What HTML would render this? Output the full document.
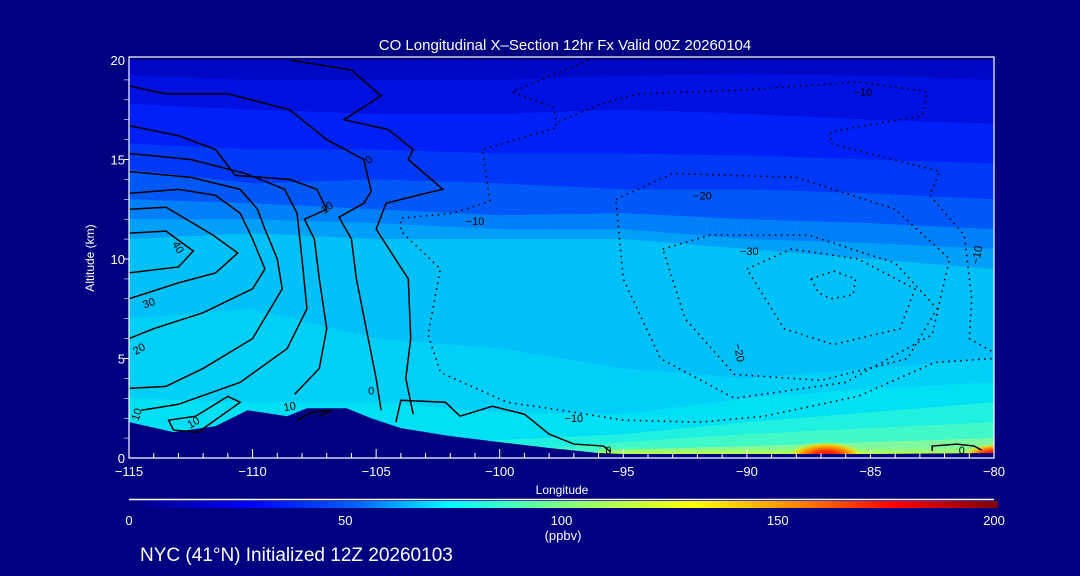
<!DOCTYPE html>
<html><head><meta charset="utf-8">
<style>
html,body{margin:0;padding:0;background:#000080;width:1080px;height:576px;overflow:hidden}
svg{display:block}
text{font-family:"Liberation Sans",sans-serif;fill:#fff}
</style></head>
<body>
<svg id="chart" width="1080" height="576" viewBox="0 0 1080 576">
<defs>
<linearGradient id="cbar" x1="0" x2="1" y1="0" y2="0">
<stop offset="0" stop-color="#000080"/>
<stop offset="0.14" stop-color="#0000ff"/>
<stop offset="0.26" stop-color="#0060ff"/>
<stop offset="0.37" stop-color="#00ffff"/>
<stop offset="0.5" stop-color="#80ff80"/>
<stop offset="0.65" stop-color="#ffff00"/>
<stop offset="0.76" stop-color="#ff9000"/>
<stop offset="0.88" stop-color="#ff0000"/>
<stop offset="1" stop-color="#800000"/>
</linearGradient>
<radialGradient id="hot" cx="0.5" cy="0.6" r="0.5">
<stop offset="0" stop-color="#d00000"/>
<stop offset="0.35" stop-color="#ff3000"/>
<stop offset="0.7" stop-color="#ffb000"/>
<stop offset="1" stop-color="#ffff00" stop-opacity="0"/>
</radialGradient>
<linearGradient id="ylw" x1="0" x2="0" y1="0" y2="1">
<stop offset="0" stop-color="#a0ff60" stop-opacity="0"/>
<stop offset="0.5" stop-color="#c0ff40"/>
<stop offset="1" stop-color="#e8ff20"/>
</linearGradient>
<clipPath id="plotclip"><rect x="129" y="60" width="865" height="398"/></clipPath>
</defs>
<text x="565" y="50" font-size="15" text-anchor="middle">CO Longitudinal X–Section 12hr  Fx Valid 00Z 20260104</text>
<g id="plot" clip-path="url(#plotclip)"></g>
<g id="lines" clip-path="url(#plotclip)"></g>
<g id="axes"></g>
<text x="562" y="494" font-size="12" text-anchor="middle">Longitude</text>
<text x="94" y="258" font-size="12" text-anchor="middle" transform="rotate(-90 94 258)">Altitude (km)</text>
<line x1="129" y1="499.5" x2="994" y2="499.5" stroke="#fff" stroke-width="1.5"/>
<rect x="129" y="501" width="869" height="7" fill="url(#cbar)"/>
<g id="cbticks"></g>
<text x="563" y="540" font-size="13" text-anchor="middle">(ppbv)</text>
<text x="140" y="561" font-size="19">NYC (41°N) Initialized 12Z 20260103</text>
</svg>
<script>
const lons=[-115,-110,-105,-100,-95,-90,-85,-80];
const bandColors=["#0010e0","#0020f8","#0038f8","#0058f8","#0080f8","#00a0f8","#00c0f8","#00d0f8","#00e0f4","#20f0e0","#40f8c8","#80f8a0"];
const b1=[19.2,19,19,19,19.2,19.3,19.2,19];
const b2=[17.8,17.5,17.3,17.3,17.5,17.3,17,16.8];
const b3=[15.8,15.5,15.5,15.3,15.3,15.2,15,14.8];
const b4=[14.5,13.8,14,13.8,13.5,13.5,13.3,13];
const b5=[13,12.8,12.5,12.2,12.3,12,11.8,11.5];
const b6=[12,12,11.8,11.5,11.5,11,10.8,10.5];
const b7=[11,11.3,11,11,11,10.5,10,9.5];
const b8=[7,7.5,6,5.5,4.5,4,4.5,5];
const b9=[3,2.8,2.8,2.3,2.2,3,3.5,3.8];
const b10=[0.5,0.5,0.6,0.9,1.2,1.8,2.3,2.8];
const b11=[0,0,0,0.3,0.8,1.2,1.5,1.8];
const b12=[0,0,0,0,0.4,0.6,0.8,1.0];
const bounds=[b1,b2,b3,b4,b5,b6,b7,b8,b9,b10,b11,b12];
const terrainLon=[-115,-113.2,-111.5,-110.2,-108.6,-107.8,-106.2,-105.2,-104,-102,-100,-98,-96,-95,-90,-85,-80];
const terrainAlt=[1.8,1.3,1.6,2.4,2.1,2.5,2.5,2.0,1.5,1.1,0.8,0.5,0.25,0.2,0.2,0.2,0.25];
const solidContours=[
 [[-115,11.3],[-113.5,11.4],[-112.4,10.4],[-113,9.6],[-115,9.3]],
 [[-115,12.5],[-113.5,12.6],[-111.6,11.2],[-110.6,10.3],[-111.5,9.3],[-113,8.8],[-115,8]],
 [[-115,13.3],[-113,13.5],[-111.5,13.2],[-110.5,12.3],[-110,11],[-109.5,9.5],[-110,8.5],[-112,7.3],[-114,6.5],[-115,6]],
 [[-115,14.4],[-112.5,14.1],[-110.5,13.5],[-109.8,12.5],[-109.5,11.5],[-109,10],[-108.8,8.5],[-110,6],[-112,4.5],[-113.5,3.6],[-115,3.5]],
 [[-115,15.3],[-112.5,15.0],[-110.3,14.3],[-108.7,13.5],[-108.2,12.3],[-108.0,10],[-107.8,7.5],[-108.6,5.5],[-110.5,3.8],[-113,2.7],[-114.5,2.4]],
 [[-115,16.7],[-113,16.2],[-111.5,15.5],[-110.7,14.2],[-108.5,14],[-107.4,13.5],[-107,12.5],[-107.9,12],[-107.5,11],[-107.3,9],[-107,6.5],[-107.3,4.5],[-108.3,3.2]],
 [[-115,18.7],[-113.5,18.3],[-111,18.3],[-108.5,17.5],[-107,16],[-105.5,15],[-105.2,13.4],[-105.5,12.8],[-106.5,12.1],[-106,11],[-105.8,9],[-105.4,6.5],[-105,4],[-104.8,2.4]],
 [[-108.5,20],[-106,19.5],[-104.8,18.2],[-106.3,17],[-104.5,16.5],[-103.5,15.5],[-103.7,15],[-102.3,13.5],[-103,13.3],[-104.6,12.8],[-105,11.5],[-103.7,9],[-103.6,6],[-103.8,4],[-103.5,2.2]],
 [[-104.2,1.8],[-104,2.9],[-102.2,2.8],[-101.6,2.1],[-100.3,2.6],[-99,2.2],[-98,1.2],[-97,0.7],[-95.8,0.6],[-95.5,0.3]],
 [[-113.2,1.4],[-112.2,1.3],[-110.5,2.8],[-111,3.1],[-112.3,2.1],[-113.4,1.9],[-113.2,1.4]],
 [[-108.2,1.9],[-107.6,2.3],[-106.8,2.4],[-107.3,2.1]],
 [[-82.5,0.35],[-82.5,0.6],[-81.5,0.7],[-80.8,0.6],[-80.5,0.4]]
];
const dottedContours=[
 [[-96.4,20],[-99.5,18.4],[-97.8,17.6],[-97.7,16.6],[-100.7,15.5],[-100.4,12.9],[-101.9,12.3],[-104,12.05],[-104,11.4],[-102.4,9.5],[-102.9,6.2],[-102.4,4.3],[-99.7,2.8],[-97.5,2.4],[-95,1.9],[-91.9,1.8],[-89.3,2.1],[-85.5,3.1],[-82.4,4.8],[-80,5]],
 [[-97.6,16.9],[-95.9,17.8],[-94.4,18.3],[-90,18.5],[-85.5,18.9],[-82.7,18.4],[-82.9,17.2],[-86.6,16.4],[-86.6,15.8],[-82.2,14.4],[-82.6,13.2],[-81.2,11.2],[-80.9,8.0],[-81.0,6.0],[-80,5.3]],
 [[-95.3,13.0],[-93.0,14.3],[-88,14.1],[-84,12.5],[-81.8,10.0],[-82.5,6.2],[-86,3.8],[-90.5,3.0],[-93.5,5.0],[-95.0,9.0],[-95.3,13.0]],
 [[-93.4,10.5],[-91.5,11.2],[-87.5,11.2],[-84.0,9.8],[-82.3,7.5],[-83.5,5.0],[-87,3.9],[-90.5,4.2],[-92.5,7.0],[-93.4,10.5]],
 [[-90,9.5],[-88.2,10.5],[-85.5,10.0],[-83.2,8.5],[-83.8,6.5],[-86.5,5.7],[-88.5,6.5],[-90,9.5]],
 [[-87.4,9.0],[-86.5,9.4],[-85.6,9.0],[-85.7,8.2],[-86.6,8.0],[-87.1,8.3],[-87.4,9.0]]
];
const xTickVals=[-115,-110,-105,-100,-95,-90,-85,-80];
const yTickVals=[0,5,10,15,20];
const cbVals=[0,50,100,150,200];

const NS="http://www.w3.org/2000/svg";
const X=lon=>129+(lon+115)*865/35;
const Y=alt=>458-alt*19.9;
const plot=document.getElementById('plot');
const lines=document.getElementById('lines');
const axes=document.getElementById('axes');
function mk(tag,attrs,parent){const e=document.createElementNS(NS,tag);for(const k in attrs)e.setAttribute(k,attrs[k]);parent.appendChild(e);return e;}

const bg=mk('rect',{x:129,y:60,width:865,height:398,fill:'#0008c8'},plot);


bounds.forEach((b,i)=>{
  let d='M'+X(-115)+','+Y(b[0]);
  for(let j=1;j<lons.length;j++)d+=' L'+X(lons[j])+','+Y(b[j]);
  d+=' L994,470 L129,470 Z';
  const p=mk('path',{d:d,fill:bandColors[i]},plot);
  
  
});
const yl=mk('rect',{x:X(-96),y:Y(0.55),width:X(-80)-X(-96),height:Y(0)-Y(0.55)+3,fill:'url(#ylw)'},plot);


const hot=mk('ellipse',{cx:X(-86.8),cy:Y(0.25),rx:38,ry:14,fill:'url(#hot)'},plot);


const hot2=mk('ellipse',{cx:X(-80),cy:Y(0.3),rx:30,ry:10,fill:'url(#hot)'},plot);


let td='M129,470';
terrainLon.forEach((l,i)=>{td+=' L'+X(l)+','+Y(terrainAlt[i]);});
td+=' L994,470 Z';
const ter=mk('path',{d:td,fill:'#000080'},plot);



function pts(c){return c.map(p=>X(p[0])+','+Y(p[1])).join(' ');}
solidContours.forEach(c=>{
  const l=mk('polyline',{points:pts(c),fill:'none',stroke:'#000',"stroke-width":1.5},lines);
  
  
});
dottedContours.forEach(c=>{
  const l=mk('polyline',{points:pts(c),fill:'none',stroke:'#000',"stroke-width":1.6,"stroke-dasharray":"1.5 4.5"},lines);
  
  
});
const labels=[[-113,10.6,'40',60],[-114.2,7.8,'30',-20],[-114.6,5.5,'20',-30],[-114.7,2.2,'10',-70],[-112.4,1.8,'10',-30],[-108.5,2.6,'10',-10],[-105.2,3.4,'0',0],[-107,12.6,'10',-40],[-105.3,15,'0',-40],[-101,11.9,'−10',0],[-91.8,13.2,'−20',0],[-89.9,10.4,'−30',0],[-85.3,18.4,'−10',0],[-90.3,5.3,'−20',80],[-80.7,10.2,'−10',-80],[-95.6,0.4,'0',0],[-97,2.0,'−10',0],[-81.3,0.4,'0',0]];
labels.forEach(a=>{
  const t=mk('text',{x:X(a[0]),y:Y(a[1])+4,"font-size":11,"text-anchor":"middle",transform:'rotate('+a[3]+' '+X(a[0])+' '+Y(a[1])+')'},lines);
  t.style.fill='#000';
  t.textContent=a[2];
  
  
});

const ax=mk('path',{d:'M129,57 L994,57 L994,458 L129,458 Z',fill:'none',stroke:'#fff',"stroke-width":1.2},axes);


for(let l=-115;l<=-80;l++){
  const major=xTickVals.includes(l);
  const t=mk('line',{x1:X(l),x2:X(l),y1:458,y2:458-(major?9:5),stroke:'#fff',"stroke-width":1},axes);
  
  
}
xTickVals.forEach(v=>{
  const t=mk('text',{x:X(v),y:476,"font-size":13,"text-anchor":"middle"},axes);
  t.textContent=(v<0?'−':'')+Math.abs(v);
  
  
});
yTickVals.forEach(v=>{
  const t=mk('text',{x:125,y:Y(v)+5,"font-size":13,"text-anchor":"end"},axes);
  t.textContent=v;
  
  
});
for(let v=1;v<20;v++){
  const tk=mk('line',{x1:124,x2:129,y1:Y(v),y2:Y(v),stroke:'#fff',"stroke-width":v%5==0?1:0.6},axes);
  
  
}
const cbt=document.getElementById('cbticks');
cbVals.forEach(v=>{
  const t=mk('text',{x:129+v/200*865,y:525,"font-size":13,"text-anchor":"middle"},cbt);
  t.textContent=v;
  
  
});
</script>
</body></html>
